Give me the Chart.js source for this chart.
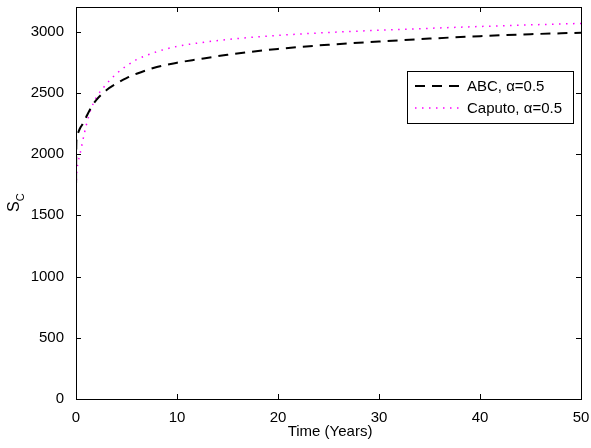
<!DOCTYPE html>
<html>
<head>
<meta charset="utf-8">
<script src="https://cdn.jsdelivr.net/npm/chart.js@4/dist/chart.umd.min.js"></script>
<style>
  html, body { margin: 0; padding: 0; background: #fff; }
  #wrap { width: 591px; height: 448px; }
</style>
</head>
<body>
<div id="wrap"><canvas id="c"></canvas></div>
<script>
// values
const timeYears = [0, 0.02, 0.05, 0.1, 0.2, 0.4, 0.7, 1, 1.5, 2, 3, 4, 5, 6, 8, 10, 12, 15, 20, 25, 30, 35, 40, 45, 50];
const abcValues = [1620, 2000, 2120, 2150, 2170, 2210, 2250, 2300, 2380, 2440, 2520, 2575, 2620, 2655, 2710, 2745, 2772, 2810, 2858, 2892, 2918, 2942, 2962, 2978, 2990];
const caputoValues = [1500, 1700, 1800, 1870, 1930, 2000, 2120, 2230, 2370, 2460, 2570, 2655, 2720, 2770, 2835, 2878, 2905, 2935, 2968, 2992, 3010, 3026, 3041, 3054, 3066];
const xTicks = [0, 10, 20, 30, 40, 50];
const yTicks = [0, 500, 1000, 1500, 2000, 2500, 3000];
const seriesLabels = ['ABC, \u03b1=0.5', 'Caputo, \u03b1=0.5'];

const FONT = '"Liberation Sans", Arial, sans-serif';

const toPoints = vals => vals.map((v, i) => ({ x: timeYears[i], y: v }));

// box, inward ticks, axis titles and legend, matlab style
const matlabFrame = {
  id: 'matlabFrame',
  afterDraw(chart) {
    const { ctx, chartArea: a, scales: { x, y } } = chart;
    ctx.save();
    ctx.strokeStyle = '#000';
    ctx.lineWidth = 1;
    ctx.strokeRect(a.left + 0.5, a.top + 0.5, a.right - a.left, a.bottom - a.top);
    ctx.beginPath();
    xTicks.forEach(t => {
      const px = Math.round(x.getPixelForValue(t)) + 0.5;
      ctx.moveTo(px, a.bottom); ctx.lineTo(px, a.bottom - 5);
      ctx.moveTo(px, a.top); ctx.lineTo(px, a.top + 5);
    });
    yTicks.forEach(t => {
      const py = Math.round(y.getPixelForValue(t)) + 0.5;
      ctx.moveTo(a.left, py); ctx.lineTo(a.left + 5, py);
      ctx.moveTo(a.right, py); ctx.lineTo(a.right - 5, py);
    });
    ctx.stroke();

    // axis titles
    ctx.fillStyle = '#000';
    ctx.font = '15px ' + FONT;
    ctx.textAlign = 'center';
    ctx.textBaseline = 'alphabetic';
    ctx.fillText('Time (Years)', 330, 436);

    ctx.save();
    ctx.translate(19, 212);
    ctx.rotate(-Math.PI / 2);
    ctx.textAlign = 'left';
    ctx.font = '16px ' + FONT;
    ctx.fillText('S', 0, 0);
    const sw = ctx.measureText('S').width;
    ctx.font = '11px ' + FONT;
    ctx.fillText('C', sw, 5);
    ctx.restore();

    // legend
    const lx = 407, ly = 71, lw = 166, lh = 52;
    ctx.fillStyle = '#fff';
    ctx.fillRect(lx, ly, lw, lh);
    ctx.strokeRect(lx + 0.5, ly + 0.5, lw, lh);
    const rows = [ly + 15, ly + 37];
    chart.data.datasets.forEach((ds, i) => {
      ctx.save();
      ctx.strokeStyle = ds.borderColor;
      ctx.lineWidth = ds.borderWidth;
      ctx.setLineDash(ds.borderDash);
      ctx.beginPath();
      ctx.moveTo(lx + 8, rows[i]);
      ctx.lineTo(lx + 54, rows[i]);
      ctx.stroke();
      ctx.restore();
      ctx.fillStyle = '#000';
      ctx.font = '15px ' + FONT;
      ctx.textAlign = 'left';
      ctx.textBaseline = 'middle';
      ctx.fillText(ds.label, lx + 60, rows[i] + 1);
    });
    ctx.restore();
  }
};

new Chart(document.getElementById('c'), {
  type: 'line',
  data: {
    datasets: [
      {
        label: seriesLabels[0],
        data: toPoints(abcValues),
        borderColor: '#000000',
        borderWidth: 2,
        borderDash: [10, 7],
        pointRadius: 0,
        cubicInterpolationMode: 'monotone',
        fill: false
      },
      {
        label: seriesLabels[1],
        data: toPoints(caputoValues),
        borderColor: '#ff00ff',
        borderWidth: 1.5,
        borderDash: [1.5, 5.5],
        pointRadius: 0,
        cubicInterpolationMode: 'monotone',
        fill: false
      }
    ]
  },
  options: {
    responsive: true,
    maintainAspectRatio: false,
    animation: false,
    layout: { padding: { left: 0, right: 10, top: 7, bottom: 0 } },
    plugins: { legend: { display: false }, tooltip: { enabled: false } },
    scales: {
      x: {
        type: 'linear',
        min: 0,
        max: 50,
        afterBuildTicks: s => { s.ticks = xTicks.map(v => ({ value: v })); },
        afterFit: s => { s.height = 49; s.paddingLeft = 0; s.paddingRight = 0; },
        grid: { display: false },
        border: { display: false },
        ticks: { color: '#000', font: { family: FONT, size: 15 }, padding: 2, maxRotation: 0, callback: v => String(v) }
      },
      y: {
        type: 'linear',
        min: 0,
        max: 3200,
        afterBuildTicks: s => { s.ticks = yTicks.map(v => ({ value: v })); },
        afterFit: s => { s.width = 76; s.paddingTop = 0; s.paddingBottom = 0; },
        grid: { display: false },
        border: { display: false },
        ticks: { color: '#000', font: { family: FONT, size: 15 }, padding: 4, callback: v => String(v) }
      }
    }
  },
  plugins: [matlabFrame]
});
</script>
</body>
</html>
